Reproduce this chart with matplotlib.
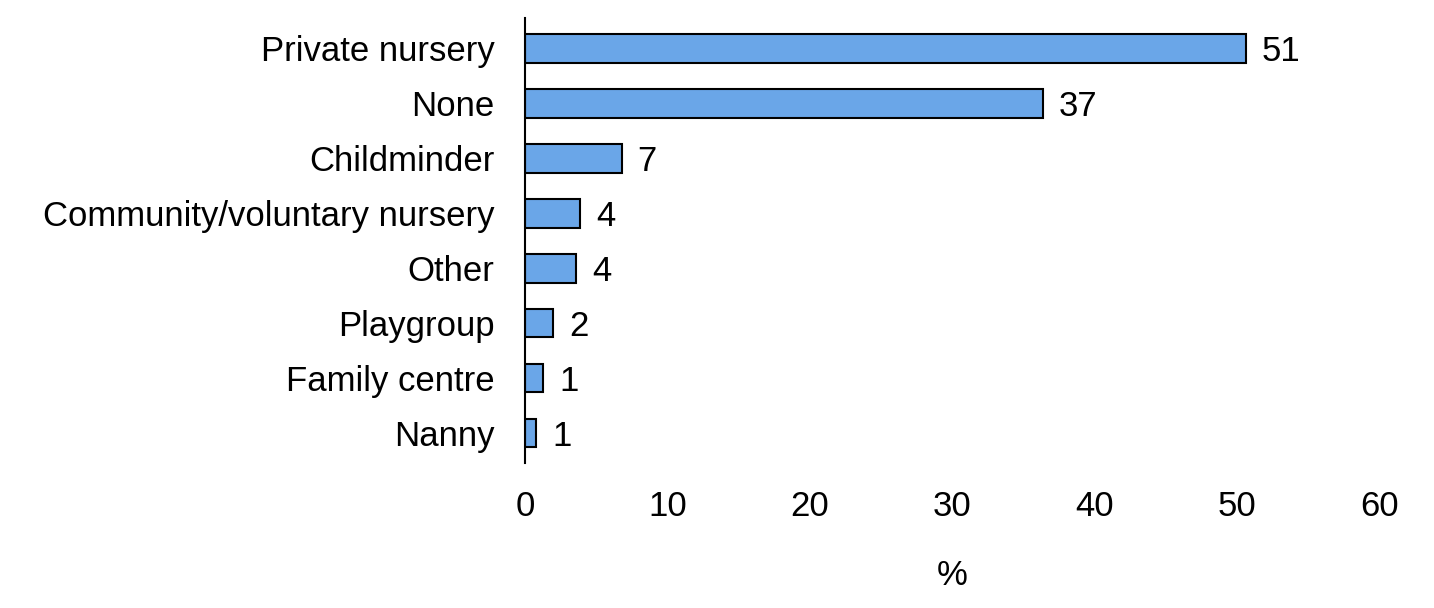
import matplotlib.pyplot as plt

categories = ['Private nursery', 'None', 'Childminder', 'Community/voluntary nursery',
              'Other', 'Playgroup', 'Family centre', 'Nanny']
values = [50.6, 36.4, 6.8, 3.9, 3.6, 2.0, 1.3, 0.8]
value_labels = ['51', '37', '7', '4', '4', '2', '1', '1']
xticks = [0, 10, 20, 30, 40, 50, 60]

plt.rcParams['font.family'] = ['Liberation Sans', 'DejaVu Sans']
fs = 25

fig = plt.figure(figsize=(14.34, 6.08), dpi=100)
ax = fig.add_axes([0.366, 0.238, 0.596, 0.732])

ypos = list(range(len(categories)))
ax.barh(ypos, values, height=0.52, color='#6aa6e8', edgecolor='black', linewidth=1.5)
for y, v, lab in zip(ypos, values, value_labels):
    ax.text(v + 1.1, y, lab, va='center_baseline', ha='left', fontsize=fs)

ax.set_yticks(ypos)
ax.set_yticklabels(categories, fontsize=fs)
ax.set_ylim(7.55, -0.55)
ax.set_xlim(0, 60)
ax.set_xticks(xticks)
ax.set_xticklabels([str(t) for t in xticks], fontsize=fs)
ax.tick_params(axis='both', length=0)
ax.tick_params(axis='x', pad=19)
ax.tick_params(axis='y', pad=22)
ax.set_xlabel('%', fontsize=fs, labelpad=26)

for s in ['top', 'right', 'bottom']:
    ax.spines[s].set_visible(False)
ax.spines['left'].set_linewidth(1.5)

fig.savefig('out.png', dpi=100)
